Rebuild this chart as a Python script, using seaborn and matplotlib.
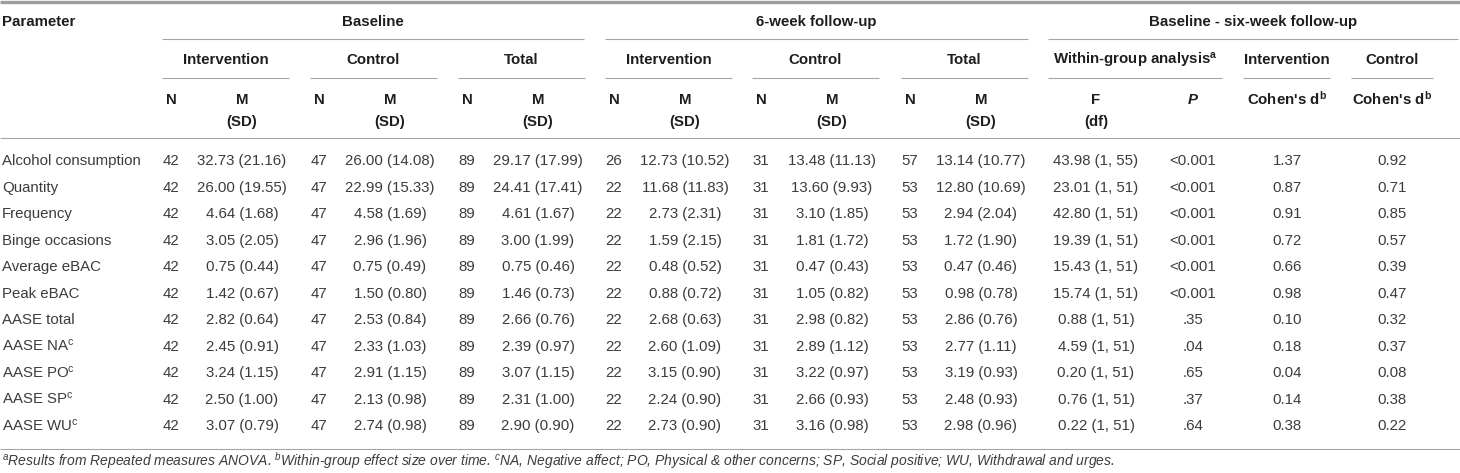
import matplotlib
matplotlib.use("Agg")
import matplotlib.pyplot as plt
import seaborn as sns

# ---- data ----
parameters = ["Alcohol consumption", "Quantity", "Frequency", "Binge occasions",
              "Average eBAC", "Peak eBAC", "AASE total", "AASE NA", "AASE PO",
              "AASE SP", "AASE WU"]
param_notes = ["", "", "", "", "", "", "", "c", "c", "c", "c"]

# baseline
base_int_n = [42, 42, 42, 42, 42, 42, 42, 42, 42, 42, 42]
base_int_m = [32.73, 26.00, 4.64, 3.05, 0.75, 1.42, 2.82, 2.45, 3.24, 2.50, 3.07]
base_int_sd = [21.16, 19.55, 1.68, 2.05, 0.44, 0.67, 0.64, 0.91, 1.15, 1.00, 0.79]
base_ctrl_n = [47, 47, 47, 47, 47, 47, 47, 47, 47, 47, 47]
base_ctrl_m = [26.00, 22.99, 4.58, 2.96, 0.75, 1.50, 2.53, 2.33, 2.91, 2.13, 2.74]
base_ctrl_sd = [14.08, 15.33, 1.69, 1.96, 0.49, 0.80, 0.84, 1.03, 1.15, 0.98, 0.98]
base_tot_n = [89, 89, 89, 89, 89, 89, 89, 89, 89, 89, 89]
base_tot_m = [29.17, 24.41, 4.61, 3.00, 0.75, 1.46, 2.66, 2.39, 3.07, 2.31, 2.90]
base_tot_sd = [17.99, 17.41, 1.67, 1.99, 0.46, 0.73, 0.76, 0.97, 1.15, 1.00, 0.90]

# 6-week follow-up
fu_int_n = [26, 22, 22, 22, 22, 22, 22, 22, 22, 22, 22]
fu_int_m = [12.73, 11.68, 2.73, 1.59, 0.48, 0.88, 2.68, 2.60, 3.15, 2.24, 2.73]
fu_int_sd = [10.52, 11.83, 2.31, 2.15, 0.52, 0.72, 0.63, 1.09, 0.90, 0.90, 0.90]
fu_ctrl_n = [31, 31, 31, 31, 31, 31, 31, 31, 31, 31, 31]
fu_ctrl_m = [13.48, 13.60, 3.10, 1.81, 0.47, 1.05, 2.98, 2.89, 3.22, 2.66, 3.16]
fu_ctrl_sd = [11.13, 9.93, 1.85, 1.72, 0.43, 0.82, 0.82, 1.12, 0.97, 0.93, 0.98]
fu_tot_n = [57, 53, 53, 53, 53, 53, 53, 53, 53, 53, 53]
fu_tot_m = [13.14, 12.80, 2.94, 1.72, 0.47, 0.98, 2.86, 2.77, 3.19, 2.48, 2.98]
fu_tot_sd = [10.77, 10.69, 2.04, 1.90, 0.46, 0.78, 0.76, 1.11, 0.93, 0.93, 0.96]

# within-group analysis + effect sizes
f_values = [43.98, 23.01, 42.80, 19.39, 15.43, 15.74, 0.88, 4.59, 0.20, 0.76, 0.22]
f_df1 = [1, 1, 1, 1, 1, 1, 1, 1, 1, 1, 1]
f_df2 = [55, 51, 51, 51, 51, 51, 51, 51, 51, 51, 51]
p_values = ["<0.001", "<0.001", "<0.001", "<0.001", "<0.001", "<0.001",
            ".35", ".04", ".65", ".37", ".64"]
d_int = [1.37, 0.87, 0.91, 0.72, 0.66, 0.98, 0.10, 0.18, 0.04, 0.14, 0.38]
d_ctrl = [0.92, 0.71, 0.85, 0.57, 0.39, 0.47, 0.32, 0.37, 0.08, 0.38, 0.22]

group_labels = ["Intervention", "Control", "Total", "Intervention", "Control", "Total"]
footnote = (r"$^{\mathit{a}}$Results from Repeated measures ANOVA. "
            r"$^{\mathit{b}}$Within-group effect size over time. "
            r"$^{\mathit{c}}$NA, Negative affect; PO, Physical & other concerns; "
            r"SP, Social positive; WU, Withdrawal and urges.")

# ---- style ----
sns.set_theme(style="white")
plt.rcParams["font.family"] = ["Liberation Sans", "DejaVu Sans"]
plt.rcParams["mathtext.fontset"] = "custom"
plt.rcParams["mathtext.rm"] = "Liberation Sans"
plt.rcParams["mathtext.it"] = "Liberation Sans:italic"
plt.rcParams["mathtext.bf"] = "Liberation Sans:bold"

FS = 10.8
HEAD = "#1e1e1e"
BODY = "#3c3c3c"
RULE = "#a6a6a6"

fig = plt.figure(figsize=(14.6, 4.73), dpi=100)
ax = fig.add_axes([0, 0, 1, 1])
ax.set_xlim(0, 1460)
ax.set_ylim(473, 0)
ax.axis("off")


def txt(x, y, s, ha="center", weight="normal", color=BODY, style="normal", size=FS):
    # y is the visual centre of capitals, text sits on the baseline
    ax.text(x, y + size / 2, s, ha=ha, va="baseline", fontsize=size,
            fontweight=weight, color=color, fontstyle=style)


# layout (pixels)
group_left = [162, 310, 458, 605, 752, 901]
group_w = 127
n_off, m_off = 9, 80
x_f, x_p, x_dint, x_dctrl = 1096, 1193, 1287, 1392
y_top, y_sub, y_nm, y_sd = 21, 59, 99, 121
row0, row_h = 160, 26.5

# rules
ax.hlines(2, 0, 1460, color="#9e9e9e", lw=2.4)
for x0, x1 in [(162, 584), (605, 1028), (1048, 1458)]:
    ax.hlines(39.5, x0, x1, color=RULE, lw=0.8)
sub_spans = [(g, g + group_w) for g in group_left] + [(1048, 1222), (1243, 1330), (1351, 1433)]
for x0, x1 in sub_spans:
    ax.hlines(78.5, x0, x1, color=RULE, lw=0.8)
ax.hlines(138, 0, 1460, color=RULE, lw=0.8)
ax.hlines(449, 0, 1460, color=RULE, lw=0.8)

# header
txt(2, y_top, "Parameter", ha="left", weight="bold", color=HEAD)
txt(373, y_top, "Baseline", weight="bold", color=HEAD)
txt(816, y_top, "6-week follow-up", weight="bold", color=HEAD)
txt(1253, y_top, "Baseline - six-week follow-up", weight="bold", color=HEAD)
for gx, lab in zip(group_left, group_labels):
    txt(gx + group_w / 2, y_sub, lab, weight="bold", color=HEAD)
    txt(gx + n_off, y_nm, "N", weight="bold", color=HEAD)
    txt(gx + m_off, y_nm, "M", weight="bold", color=HEAD)
    txt(gx + m_off, y_sd, "(SD)", weight="bold", color=HEAD)
txt(1135, y_sub, r"Within-group analysis$^{\mathbf{a}}$", weight="bold", color=HEAD)
txt(1287, y_sub, "Intervention", weight="bold", color=HEAD)
txt(1392, y_sub, "Control", weight="bold", color=HEAD)
txt(x_f, y_nm, "F", weight="bold", color=HEAD)
txt(x_f, y_sd, "(df)", weight="bold", color=HEAD)
txt(x_p, y_nm, "P", weight="bold", style="italic", color=HEAD)
txt(x_dint, y_nm, r"Cohen's d$^{\mathbf{b}}$", weight="bold", color=HEAD)
txt(x_dctrl, y_nm, r"Cohen's d$^{\mathbf{b}}$", weight="bold", color=HEAD)

# body
groups = [(base_int_n, base_int_m, base_int_sd),
          (base_ctrl_n, base_ctrl_m, base_ctrl_sd),
          (base_tot_n, base_tot_m, base_tot_sd),
          (fu_int_n, fu_int_m, fu_int_sd),
          (fu_ctrl_n, fu_ctrl_m, fu_ctrl_sd),
          (fu_tot_n, fu_tot_m, fu_tot_sd)]

for i, name in enumerate(parameters):
    y = row0 + i * row_h
    label = name + (r"$^{\mathrm{%s}}$" % param_notes[i] if param_notes[i] else "")
    txt(2, y, label, ha="left")
    for gx, (ns, ms, sds) in zip(group_left, groups):
        txt(gx + n_off, y, str(ns[i]))
        txt(gx + m_off, y, f"{ms[i]:.2f} ({sds[i]:.2f})")
    txt(x_f, y, f"{f_values[i]:.2f} ({f_df1[i]}, {f_df2[i]})")
    txt(x_p, y, p_values[i])
    txt(x_dint, y, f"{d_int[i]:.2f}")
    txt(x_dctrl, y, f"{d_ctrl[i]:.2f}")

txt(2, 461, footnote, ha="left", style="italic", size=10.0, color=BODY)

fig.savefig("out.png", dpi=100)
